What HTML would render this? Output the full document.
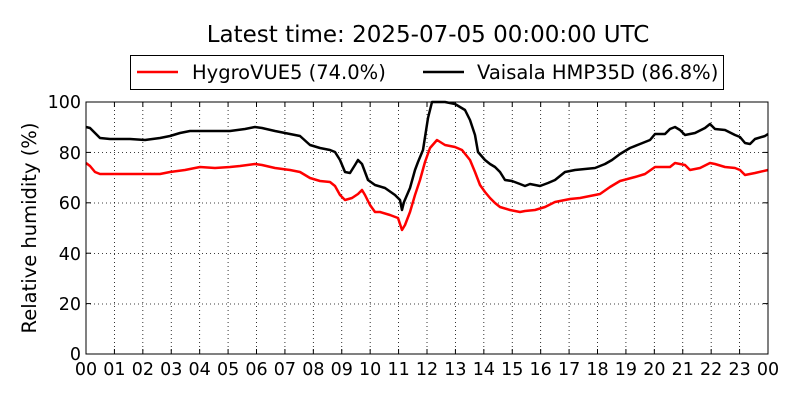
<!DOCTYPE html>
<html><head><meta charset="utf-8"><style>body{margin:0;background:#fff}svg{display:block}text{font-family:"DejaVu Sans","Liberation Sans",sans-serif;fill:#000}</style></head><body>
<svg width="800" height="400" xmlns="http://www.w3.org/2000/svg">
<rect width="800" height="400" fill="#fff"/>
<text x="428" y="42" font-size="23" text-anchor="middle">Latest time: 2025-07-05 00:00:00 UTC</text>
<rect x="130.5" y="55.5" width="593" height="34" fill="#fff" stroke="#000" stroke-width="1"/>
<line x1="137" y1="72" x2="178" y2="72" stroke="red" stroke-width="2.5"/>
<text x="192" y="79" font-size="19.5">HygroVUE5 (74.0%)</text>
<line x1="423" y1="72" x2="464" y2="72" stroke="#000" stroke-width="2.5"/>
<text x="477" y="79" font-size="19.5">Vaisala HMP35D (86.8%)</text>
<g stroke="#000" stroke-width="0.8" stroke-dasharray="1,3">
<line x1="86" y1="152.5" x2="768" y2="152.5"/><line x1="86" y1="203" x2="768" y2="203"/><line x1="86" y1="253.5" x2="768" y2="253.5"/><line x1="86" y1="304" x2="768" y2="304"/>
</g>
<g id="vg" stroke="#000" stroke-width="0.8" stroke-dasharray="1,3"></g>
<g fill="none" stroke-width="2.5" stroke-linejoin="round">
<polyline stroke="red" points="86,163 90,166 95,172 100,174 130,174 160,174 170,172 185,170 200,167 215,168 230,167 240,166 255,164 262,165 275,168 290,170 300,172 310,178 320,181 330,182 335,186 340,195 345,200 352,198 358,194 362,190 365,195 370,205 375,212 380,212 390,215 398,218 402,230 405,225 410,212 415,195 420,180 425,162 430,148 437,140 445,145 455,147 462,150 470,160 475,172 480,185 485,192 490,198 495,203 500,207 510,210 520,212 525,211 535,210 545,207 555,202 570,199 580,198 590,196 600,194 610,187 620,181 635,177 645,174 655,167 670,167 675,163 685,165 690,170 700,168 710,163 715,164 725,167 735,168 740,170 745,175 755,173 768,170"/>
<polyline stroke="#000" points="86,127 90,128 95,133 100,138 110,139 130,139 145,140 160,138 170,136 180,133 190,131 200,131 215,131 230,131 245,129 255,127 262,128 275,131 285,133 300,136 310,145 320,148 330,150 335,152 340,160 345,172 350,173 355,165 358,160 362,164 368,180 375,185 385,188 395,195 400,200 402,210 404,202 410,188 415,170 418,162 423,150 428,118 432,102 445,102 455,104 465,110 470,120 475,135 478,152 485,160 490,164 495,167 500,172 505,180 512,181 520,184 525,186 530,184 540,186 548,183 555,180 565,172 575,170 585,169 595,168 600,166 605,164 612,160 620,154 630,148 640,144 650,140 655,134 665,134 670,129 675,127 680,130 685,135 695,133 705,128 710,124 715,129 725,130 735,135 740,137 745,143 750,144 755,139 765,136 768,134"/>
</g>
<rect x="86" y="102" width="682" height="252" fill="none" stroke="#000" stroke-width="1"/>
<g id="ticks" stroke="#000" stroke-width="1"></g>
<g font-size="17.5" text-anchor="end">
<text x="81" y="108">100</text><text x="81" y="159">80</text><text x="81" y="209">60</text><text x="81" y="260">40</text><text x="81" y="310">20</text><text x="81" y="360">0</text>
</g>
<g id="xl" font-size="17.5" text-anchor="middle"></g>
<text transform="translate(36,228) rotate(-90)" font-size="19.5" text-anchor="middle">Relative humidity (%)</text>
<script>
var ns="http://www.w3.org/2000/svg",vg=document.getElementById('vg'),tk=document.getElementById('ticks'),xl=document.getElementById('xl');
function mk(p,t,a){var e=document.createElementNS(ns,t);for(var k in a)e.setAttribute(k,a[k]);p.appendChild(e);return e;}
for(var i=0;i<=24;i++){var x=86+i*682/24;
if(i>0&&i<24)mk(vg,'line',{x1:x,y1:102,x2:x,y2:354});
mk(tk,'line',{x1:x,y1:354,x2:x,y2:349});mk(tk,'line',{x1:x,y1:102,x2:x,y2:107});
var t=mk(xl,'text',{x:x,y:375});t.textContent=(i%24<10?'0':'')+(i%24);}
for(var j=0;j<=5;j++){var y=354-j*50.4;mk(tk,'line',{x1:86,y1:y,x2:91,y2:y});mk(tk,'line',{x1:768,y1:y,x2:763,y2:y});}
</script>
</svg>
</body></html>
